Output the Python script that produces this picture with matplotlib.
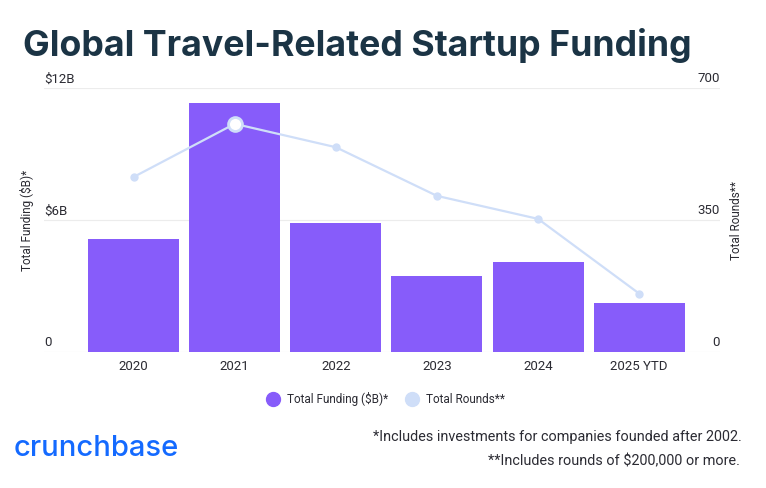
import numpy as np
import matplotlib.pyplot as plt
from matplotlib.lines import Line2D
import matplotlib.transforms as mtransforms

# data
years = ['2020', '2021', '2022', '2023', '2024', '2025 YTD']
funding = [5.15, 11.3, 5.85, 3.45, 4.1, 2.25]   # $B
rounds = [464, 605, 543, 414, 353, 155]
left_ticks = [0, 6, 12]
left_labels = ['0', '$6B', '$12B']
right_ticks = [0, 350, 700]

bar_color = '#875CFA'
line_color = '#CFDEF8'
text_color = '#2B2B33'

plt.rcParams['font.family'] = ['Roboto', 'DejaVu Sans']

fig = plt.figure(figsize=(7.66, 4.88), dpi=100)
ax = fig.add_axes([44 / 766, 1 - 352 / 488, 676 / 766, 264 / 488])
ax2 = ax.twinx()

x = np.arange(len(years))
ax.bar(x, funding, width=0.9, color=bar_color, zorder=2)
ax.set_ylim(0, 12)
ax.set_xlim(-0.886, 5.8)

ax2.plot(x, rounds, color=line_color, lw=1.6, marker='o', ms=6,
         markeredgewidth=0, zorder=3)
ax2.plot(x[1], rounds[1], marker='o', ms=10, color='white',
         markeredgecolor=line_color, markeredgewidth=2, zorder=4)
ax2.set_ylim(0, 700)

for a in (ax, ax2):
    for s in a.spines.values():
        s.set_visible(False)
    a.set_yticks([])
ax.set_zorder(1)
ax2.set_zorder(2)
ax.patch.set_visible(False)

# gridlines
for t in left_ticks:
    ax.axhline(t, color='#ECECEC', lw=0.8, zorder=0)

trans_l = mtransforms.blended_transform_factory(ax.transAxes, ax.transData)
for t, lab in zip(left_ticks, left_labels):
    ax.text(0, t + 0.41, lab, transform=trans_l, ha='left', va='center',
            fontsize=9.5, color=text_color)
trans_r = mtransforms.blended_transform_factory(ax2.transAxes, ax2.transData)
for t in right_ticks:
    ax2.text(1, t + 24, str(t), transform=trans_r, ha='right', va='center',
             fontsize=9.5, color=text_color)

ax.set_xticks(x)
ax.set_xticklabels(years, fontsize=9.5, color=text_color)
ax.tick_params(axis='x', length=0, pad=6)

fig.text(27 / 766, 1 - 220 / 488, 'Total Funding ($B)*', rotation=90,
         ha='center', va='center', fontsize=8.5, color=text_color)
fig.text(737 / 766, 1 - 220 / 488, 'Total Rounds**', rotation=90,
         ha='center', va='center', fontsize=8.5, color=text_color)

fig.text(23 / 766, 1 - 46 / 488, 'Global Travel-Related Startup Funding',
         fontsize=25.7, fontweight='bold', color='#1B3445', family='Inter',
         va='center', ha='left')

handles = [Line2D([], [], marker='o', ls='', ms=10, color=bar_color),
           Line2D([], [], marker='o', ls='', ms=10, color=line_color)]
fig.legend(handles, ['Total Funding ($B)*', 'Total Rounds**'],
           loc='center', bbox_to_anchor=(383 / 766, 1 - 399 / 488), ncol=2,
           frameon=False, fontsize=8.5, handletextpad=0.2, columnspacing=1.0,
           labelcolor=text_color)

fig.text(14 / 766, 1 - 449 / 488, 'crunchbase', fontsize=21,
         color='#146AFF', fontweight='medium', family='Inter', va='center')
fig.text(742 / 766, 1 - 437 / 488,
         '*Includes investments for companies founded after 2002.',
         ha='right', va='center', fontsize=10.4, color=text_color)
fig.text(740 / 766, 1 - 461 / 488, '**Includes rounds of $200,000 or more.',
         ha='right', va='center', fontsize=10.4, color=text_color)

fig.savefig('out.png', dpi=100, facecolor='white')
